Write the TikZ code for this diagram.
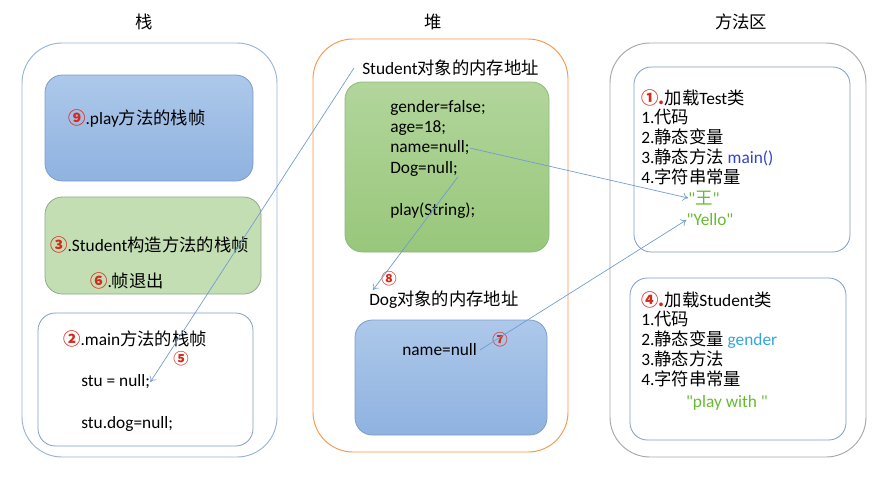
\documentclass[tikz,border=0pt]{standalone}
\usepackage{fontspec}
\setmainfont{Carlito}
\newfontfamily\strfont{Carlito}
\newfontfamily\cjk{Noto Sans CJK SC}
\usetikzlibrary{arrows.meta}
\definecolor{stackline}{HTML}{95B3D7}
\definecolor{heapline}{HTML}{F79646}
\definecolor{methline}{HTML}{A6A6A6}
\definecolor{boxline}{HTML}{7E9CC8}
\definecolor{bluetop}{HTML}{ADC8EA}
\definecolor{bluebot}{HTML}{8FB2E0}
\definecolor{greentop}{HTML}{B2D59C}
\definecolor{greenbot}{HTML}{98C77A}
\definecolor{greenline}{HTML}{8DB87A}
\definecolor{paleline}{HTML}{8FA889}
\definecolor{palegreen}{HTML}{C4DEB4}
\definecolor{linkblue}{HTML}{6E9AD0}
\definecolor{numred}{HTML}{D8281C}
\definecolor{strgreen}{HTML}{66BB33}
\definecolor{mainblue}{HTML}{3343C8}
\definecolor{varblue}{HTML}{33A6DA}
\tikzset{
  area/.style={draw, rounded corners=30pt, line width=0.7pt},
  frame/.style={draw, rounded corners=13pt, line width=0.6pt},
  title/.style={inner sep=0pt, font=\fontsize{13}{15}\selectfont},
  txt/.style={anchor=west, inner sep=0pt, font=\fontsize{13}{15}\selectfont},
  list/.style={anchor=north west, inner sep=0pt, align=left,
    font=\fontsize{13}{14.9}\selectfont},
  num/.style={inner sep=0pt, text=numred, font=\fontsize{11.5}{13}\selectfont\bfseries},
  link/.style={draw=linkblue, line width=0.5pt, -{To[length=4pt,width=6pt]}},
}
\newcommand{\cnum}[1]{\textcolor{numred}{\bfseries\cjk #1}}

\begin{document}
\begin{tikzpicture}[x=0.75pt,y=-0.75pt]
\useasboundingbox (0,0) rectangle (888,486);
% titles
\node[title] (tstack) at (144,22) {\cjk 栈};
\node[title] (theap) at (433,22) {\cjk 堆};
\node[title] (tmeth) at (741,22) {\cjk 方法区};

% stack
\draw[area, draw=stackline] (22,43) rectangle (277,457);
\draw[frame, draw=boxline, top color=bluetop, bottom color=bluebot]
  (45,75) rectangle (253,181);
\draw[frame, draw=paleline, fill=palegreen] (45,197) rectangle (261,294);
\draw[frame, draw=boxline, fill=white] (38,313) rectangle (253,446);
\node[txt] (play) at (68,118) {\cnum{⑨}.play{\cjk 方法的栈帧}};
\node[txt] (ctor) at (50,245) {\cnum{③}.Student{\cjk 构造方法的栈帧}};
\node[txt] (quit) at (90,281) {\cnum{⑥}.{\cjk 帧退出}};
\node[txt] (mainf) at (63,339) {\cnum{②}.main{\cjk 方法的栈帧}};
\node[num] (n5) at (181,359) {\cjk ⑤};
\node[txt] (stunull) at (81,382) {stu = null;};
\node[txt] (studog) at (81,424) {stu.dog=null;};

% heap
\draw[area, draw=heapline] (313,39) rectangle (568,452);
\node[txt] (saddr) at (362,68) {Student{\cjk 对象的内存地址}};
\draw[frame, draw=greenline, top color=greentop, bottom color=greenbot]
  (345,82) rectangle (549,252);
\node[txt] (gender) at (390,108) {gender=false;};
\node[txt] (age) at (390,128) {age=18;};
\node[txt] (namenull) at (390,148) {name=null;};
\node[txt] (dognull) at (390,169) {Dog=null;};
\node[txt] (playstr) at (390,211) {play(String);};
\node[num] (n8) at (389,279) {\cjk ⑧};
\node[txt] (daddr) at (369,300) {Dog{\cjk 对象的内存地址}};
\draw[frame, draw=boxline, top color=bluetop, bottom color=bluebot]
  (355,320) rectangle (547,435);
\node[txt] (dname) at (402,350) {name=null};
\node[num] (n7) at (500,340) {\cjk ⑦};

% method area
\draw[area, draw=methline] (610,43) rectangle (866,457);
\draw[frame, draw=boxline, fill=white] (634,67) rectangle (850,252);
\draw[frame, draw=boxline, fill=white] (630,278) rectangle (846,440);
\node[list] (testcls) at (641,89) {\cnum{①.}{\cjk 加载}Test{\cjk 类}\\
  1.{\cjk 代码}\\
  2.{\cjk 静态变量}\\
  3.{\cjk 静态方法} \textcolor{mainblue}{main()}\\
  4.{\cjk 字符串常量}};
\node[txt, anchor=center, text=strgreen] (wang) at (704,198) {\strfont"{\cjk 王}"};
\node[txt, anchor=center, text=strgreen] (yello) at (710,220) {\strfont"Yello"};
\node[list] (stucls) at (641,291) {\cnum{④.}{\cjk 加载}Student{\cjk 类}\\
  1.{\cjk 代码}\\
  2.{\cjk 静态变量} \textcolor{varblue}{gender}\\
  3.{\cjk 静态方法}\\
  4.{\cjk 字符串常量}};
\node[txt, anchor=center, text=strgreen] (pwith) at (727,403) {\strfont"play with "};

% references
\draw[link] ([xshift=-6]saddr.west) -- (stunull.east);
\draw[link] (namenull.east) -- (wang.west);
\draw[link] (dognull.south east) -- ([shift={(4,-1)}]daddr.north west);
\draw[link] ([xshift=2]dname.east) -- (yello.west);
\end{tikzpicture}
\end{document}
